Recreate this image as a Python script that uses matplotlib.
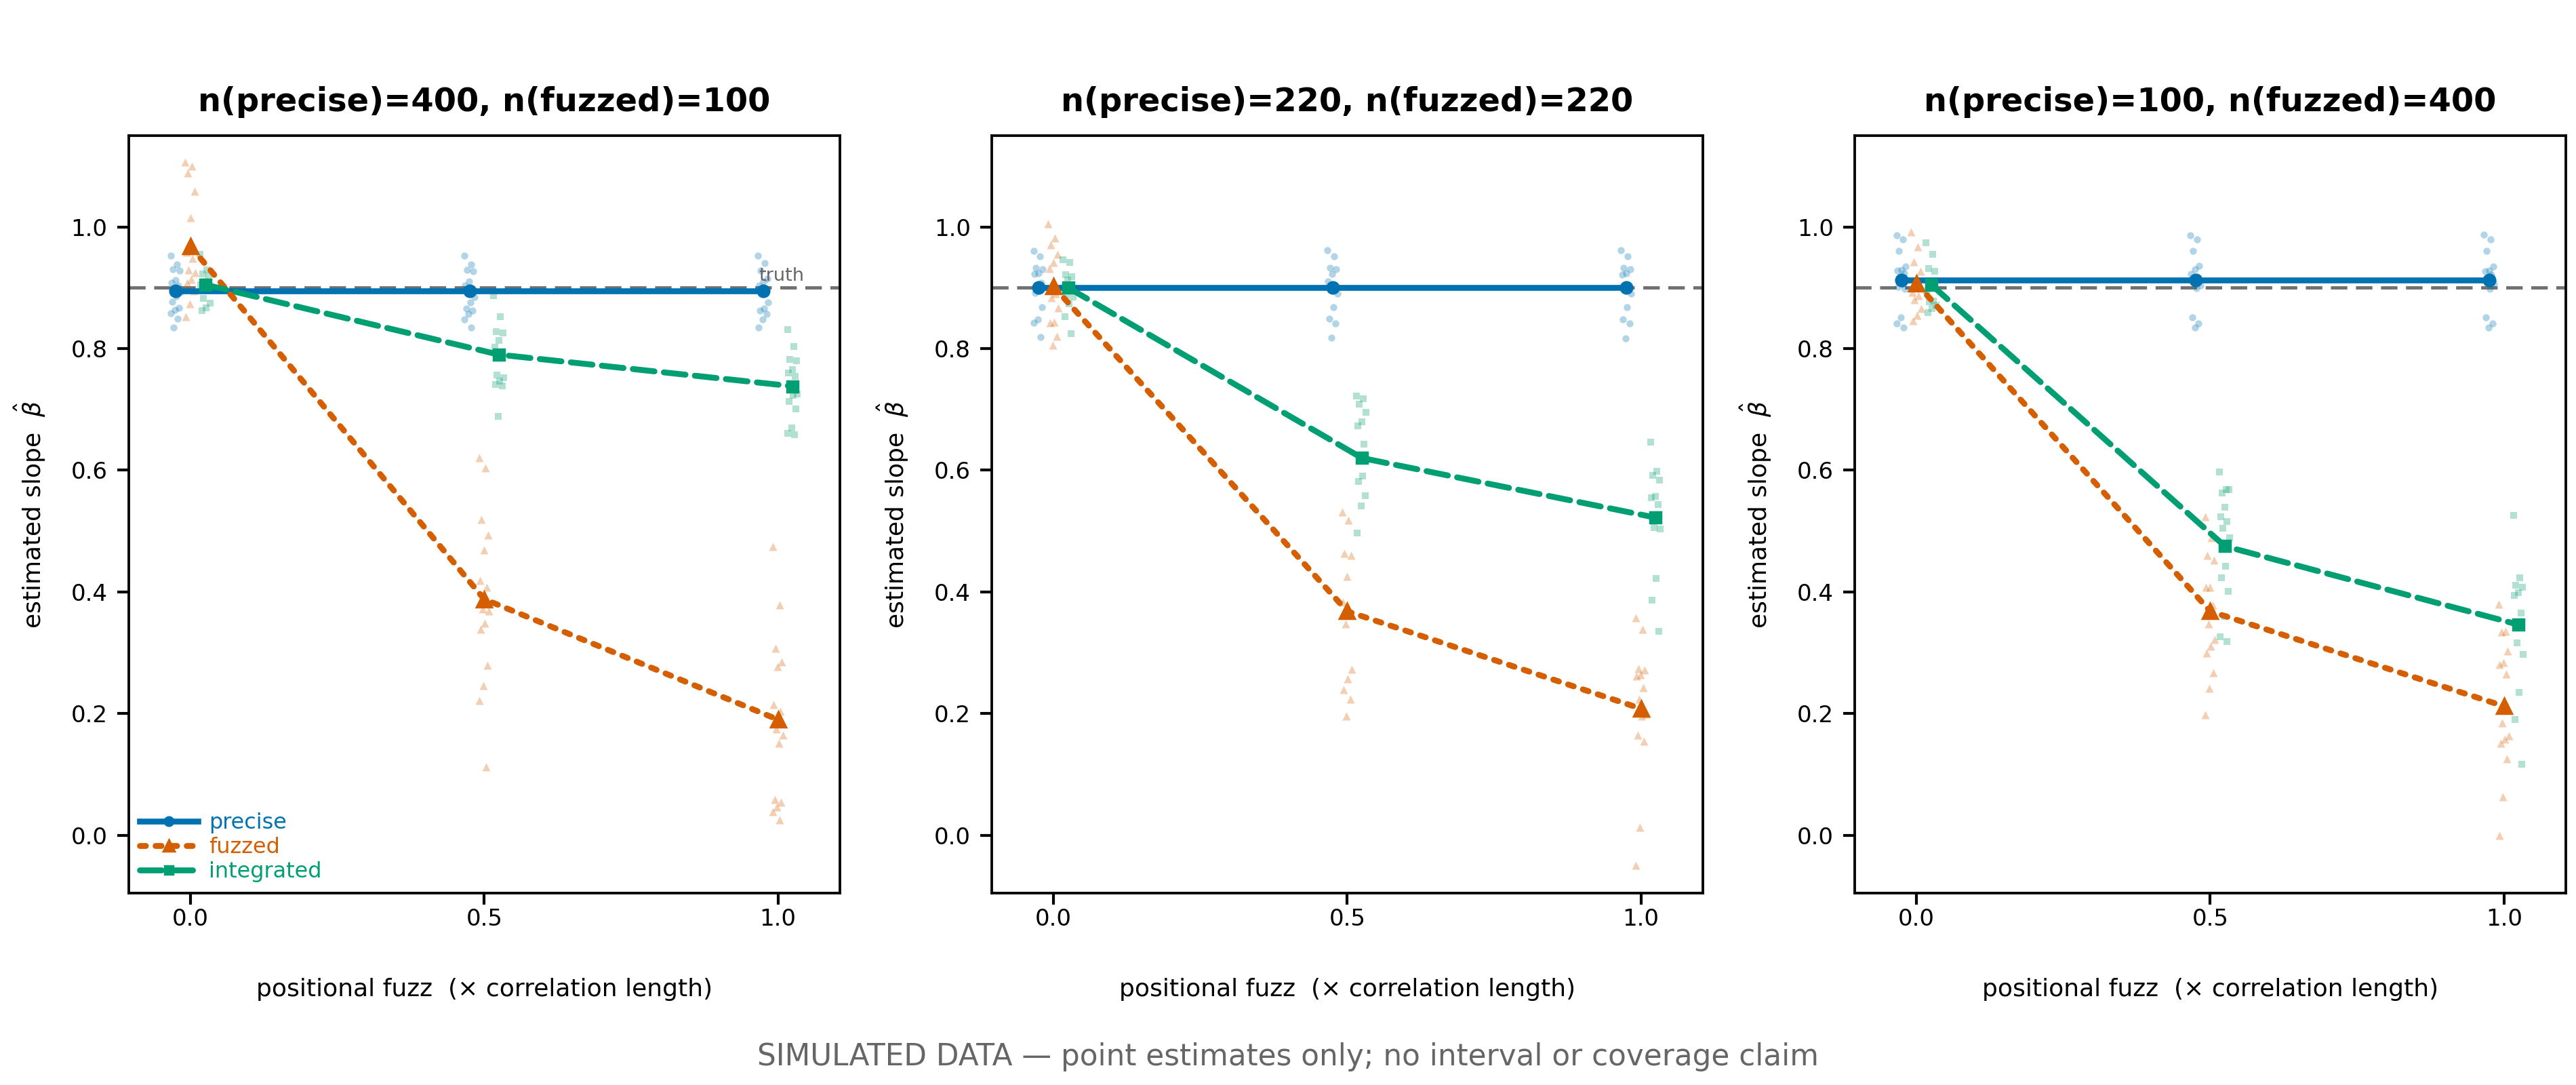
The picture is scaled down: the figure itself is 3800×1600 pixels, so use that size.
import matplotlib
matplotlib.use("Agg")
import matplotlib.pyplot as plt
import numpy as np

# fuzz levels (x correlation length)
fuzz_levels = [0.0, 0.5, 1.0]
truth = 0.9

panel_titles = [
    "n(precise)=400, n(fuzzed)=100",
    "n(precise)=220, n(fuzzed)=220",
    "n(precise)=100, n(fuzzed)=400",
]

# per-panel means
precise_mean = [[0.895, 0.895, 0.895], [0.900, 0.900, 0.900], [0.913, 0.913, 0.913]]
fuzzed_mean = [[0.968, 0.388, 0.190], [0.902, 0.368, 0.208], [0.907, 0.368, 0.212]]
integrated_mean = [[0.905, 0.790, 0.738], [0.900, 0.620, 0.522], [0.905, 0.475, 0.346]]

# replicate estimates, panel 1 (400 / 100)
p1_precise = [
    [0.953, 0.938, 0.930, 0.928, 0.912, 0.908, 0.904, 0.900, 0.893, 0.886, 0.877, 0.867, 0.863, 0.858, 0.849, 0.835],
    [0.953, 0.938, 0.929, 0.927, 0.910, 0.904, 0.898, 0.892, 0.885, 0.876, 0.866, 0.862, 0.857, 0.848, 0.834],
    [0.953, 0.940, 0.928, 0.915, 0.910, 0.904, 0.896, 0.890, 0.876, 0.866, 0.862, 0.857, 0.848, 0.834],
]
p1_fuzzed = [
    [1.107, 1.100, 1.089, 1.059, 1.015, 0.958, 0.948, 0.929, 0.925, 0.914, 0.908, 0.895, 0.873, 0.852],
    [0.621, 0.604, 0.519, 0.493, 0.469, 0.419, 0.407, 0.372, 0.369, 0.349, 0.338, 0.279, 0.246, 0.221, 0.112],
    [0.474, 0.379, 0.307, 0.285, 0.277, 0.215, 0.204, 0.175, 0.164, 0.151, 0.059, 0.054, 0.046, 0.038, 0.025],
]
p1_integrated = [
    [0.955, 0.929, 0.923, 0.919, 0.910, 0.905, 0.898, 0.882, 0.875, 0.867, 0.862],
    [0.887, 0.852, 0.828, 0.826, 0.813, 0.802, 0.790, 0.756, 0.752, 0.746, 0.741, 0.739, 0.688],
    [0.831, 0.803, 0.782, 0.780, 0.765, 0.760, 0.754, 0.739, 0.725, 0.723, 0.713, 0.701, 0.670, 0.661, 0.658],
]

# panel 2 (220 / 220)
p2_precise = [
    [0.961, 0.952, 0.933, 0.930, 0.924, 0.923, 0.908, 0.905, 0.900, 0.895, 0.891, 0.868, 0.848, 0.842, 0.819],
    [0.962, 0.952, 0.933, 0.930, 0.923, 0.910, 0.903, 0.897, 0.890, 0.868, 0.849, 0.841, 0.818],
    [0.962, 0.952, 0.933, 0.930, 0.924, 0.922, 0.905, 0.898, 0.890, 0.868, 0.848, 0.841, 0.817],
]
p2_fuzzed = [
    [1.005, 0.982, 0.971, 0.955, 0.942, 0.932, 0.890, 0.884, 0.867, 0.843, 0.842, 0.820, 0.806],
    [0.531, 0.518, 0.463, 0.460, 0.425, 0.383, 0.370, 0.347, 0.273, 0.257, 0.239, 0.224, 0.196],
    [0.357, 0.338, 0.274, 0.271, 0.264, 0.262, 0.243, 0.224, 0.199, 0.196, 0.165, 0.154, 0.013, -0.049],
]
p2_integrated = [
    [0.946, 0.942, 0.922, 0.918, 0.912, 0.900, 0.895, 0.888, 0.885, 0.874, 0.852, 0.824],
    [0.722, 0.717, 0.709, 0.695, 0.680, 0.673, 0.643, 0.621, 0.617, 0.590, 0.581, 0.558, 0.541, 0.497],
    [0.646, 0.598, 0.591, 0.584, 0.557, 0.555, 0.544, 0.506, 0.503, 0.422, 0.386, 0.335],
]

# panel 3 (100 / 400)
p3_precise = [
    [0.986, 0.979, 0.961, 0.935, 0.929, 0.928, 0.924, 0.918, 0.912, 0.906, 0.901, 0.898, 0.851, 0.841, 0.835],
    [0.986, 0.979, 0.961, 0.936, 0.930, 0.923, 0.917, 0.912, 0.904, 0.899, 0.851, 0.841, 0.834],
    [0.987, 0.979, 0.961, 0.935, 0.928, 0.927, 0.921, 0.913, 0.907, 0.898, 0.851, 0.841, 0.834],
]
p3_fuzzed = [
    [0.992, 0.967, 0.943, 0.927, 0.912, 0.892, 0.887, 0.880, 0.866, 0.855, 0.846],
    [0.523, 0.489, 0.460, 0.452, 0.408, 0.408, 0.379, 0.347, 0.322, 0.311, 0.299, 0.267, 0.241, 0.198],
    [0.380, 0.335, 0.334, 0.303, 0.284, 0.281, 0.265, 0.185, 0.163, 0.158, 0.151, 0.126, 0.063, -0.001],
]
p3_integrated = [
    [0.974, 0.955, 0.932, 0.927, 0.899, 0.895, 0.878, 0.877, 0.871, 0.866, 0.859],
    [0.597, 0.568, 0.563, 0.568, 0.539, 0.523, 0.516, 0.505, 0.489, 0.442, 0.423, 0.401, 0.360, 0.326, 0.318],
    [0.526, 0.423, 0.411, 0.408, 0.399, 0.394, 0.365, 0.316, 0.297, 0.235, 0.190, 0.117],
]

COLORS = {"precise": "#0072B2", "fuzzed": "#D55E00", "integrated": "#009E73"}


def jitter(n, width=0.009):
    # deterministic spread so points in a column do not sit on top of each other
    return ((np.arange(n) * 0.618034) % 1.0 - 0.5) * 2 * width


def draw_panel(ax, title, series, show_legend=False, show_truth_label=False):
    styles = {
        "precise": dict(offset=-0.025, marker="o", ls="-", ms=4.8, s=9),
        "fuzzed": dict(offset=0.0, marker="^", ls=":", ms=6.2, s=12),
        "integrated": dict(offset=0.025, marker="s", ls="--", ms=4.8, s=9),
    }

    ax.axhline(truth, color="#707070", lw=1.4, ls=(0, (5, 2.6)), zorder=1.5)
    if show_truth_label:
        ax.text(1.045, truth + 0.005, "truth", color="#666666", fontsize=7.8,
                ha="right", va="bottom")

    for name, (reps, means) in series.items():
        st = styles[name]
        col = COLORS[name]
        for fz, vals in zip(fuzz_levels, reps):
            xs = fz + st["offset"] + jitter(len(vals))
            ax.scatter(xs, vals, s=st["s"], marker=st["marker"], color=col,
                       alpha=0.3, linewidths=0, zorder=2)
        xm = np.array(fuzz_levels) + st["offset"]
        ax.plot(xm, means, color=col, ls=st["ls"], lw=2.5, marker=st["marker"],
                ms=st["ms"], dash_capstyle="round", label=name, zorder=3)

    ax.set_title(title, fontsize=13.8, fontweight="bold", pad=10.5)
    ax.set_xlim(-0.105, 1.105)
    ax.set_ylim(-0.095, 1.15)
    ax.set_xticks(fuzz_levels)
    ax.set_xticklabels(["0.0", "0.5", "1.0"])
    ax.set_yticks([0.0, 0.2, 0.4, 0.6, 0.8, 1.0])
    ax.tick_params(direction="out", length=5, width=1.2, labelsize=9.8, pad=4)
    ax.tick_params(axis="x", pad=1.5)
    for sp in ax.spines.values():
        sp.set_linewidth(1.1)
    ax.set_xlabel("positional fuzz  (\u00d7 correlation length)", fontsize=10.4, labelpad=20)
    ax.set_ylabel(r"estimated slope  $\hat{\beta}$", fontsize=10.4, labelpad=10)

    if show_legend:
        leg = ax.legend(loc="lower left", frameon=False, fontsize=9.2, labelspacing=0.15,
                        handlelength=2.7, handletextpad=0.5, borderaxespad=0.3,
                        borderpad=0.2, markerscale=0.75)
        for txt, name in zip(leg.get_texts(), ["precise", "fuzzed", "integrated"]):
            txt.set_color(COLORS[name])


def main():
    fig, axes = plt.subplots(1, 3, figsize=(15.2, 6.4), dpi=250)
    fig.subplots_adjust(left=0.05, right=0.996, top=0.875, bottom=0.177, wspace=0.214)

    panels = [
        (p1_precise, p1_fuzzed, p1_integrated),
        (p2_precise, p2_fuzzed, p2_integrated),
        (p3_precise, p3_fuzzed, p3_integrated),
    ]
    for i, (ax, (pr, fz, it)) in enumerate(zip(axes, panels)):
        series = {
            "precise": (pr, precise_mean[i]),
            "fuzzed": (fz, fuzzed_mean[i]),
            "integrated": (it, integrated_mean[i]),
        }
        draw_panel(ax, panel_titles[i], series, show_legend=(i == 0),
                   show_truth_label=(i == 0))

    fig.text(0.5, 0.026, "SIMULATED DATA \u2014 point estimates only; no interval or coverage claim",
             ha="center", va="center", fontsize=12.6, color="#666666")

    fig.savefig("out.png", dpi=250)


if __name__ == "__main__":
    main()
